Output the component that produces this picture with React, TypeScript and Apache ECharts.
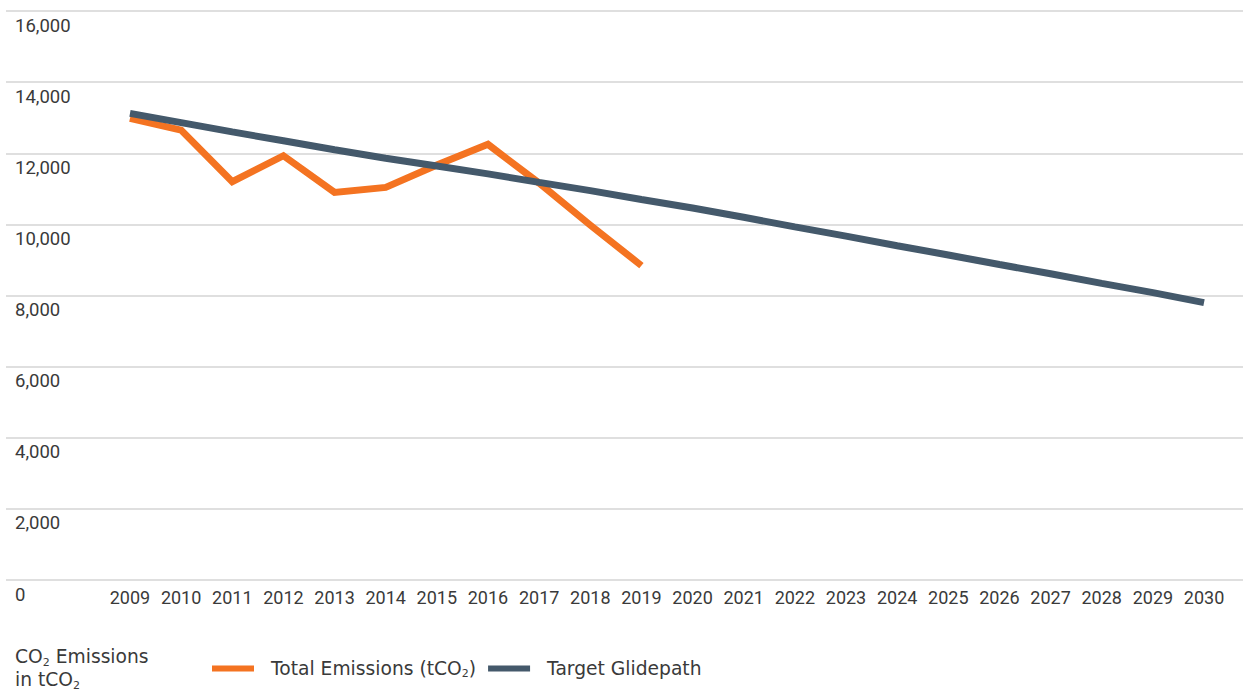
import React, { useEffect, useRef } from "react";
import * as echarts from "echarts";

const years = ["2009","2010","2011","2012","2013","2014","2015","2016","2017","2018","2019","2020","2021","2022","2023","2024","2025","2026","2027","2028","2029","2030"];
const totalEmissions = [12980, 12650, 11200, 11930, 10900, 11040, 11670, 12250, 11160, 9980, 8840];
const targetGlidepath = [13120, 12860, 12600, 12350, 12100, 11860, 11640, 11420, 11180, 10950, 10700, 10460, 10200, 9930, 9670, 9400, 9140, 8870, 8610, 8340, 8080, 7800];
const seriesNames = ["Total Emissions (tCO2)", "Target Glidepath"];
const yMin = 0;
const yMax = 16000;
const yStep = 2000;

const FONT = "Roboto";
const FONT2 = "DejaVu Sans";
const TEXT = "#3a3a3a";

export default function App() {
  const ref = useRef<HTMLDivElement>(null);
  useEffect(() => {
    document.body.style.margin = "0";
    const chart = echarts.init(ref.current!, null, { renderer: "svg" });
    const sub = { fontSize: 11, fontFamily: FONT2, color: TEXT, padding: [10, 0, 0, 0], verticalAlign: "bottom" as const };
    chart.setOption({
      animation: false,
      grid: [
        { left: 6, right: 0, top: 11, bottom: 113 },
        { left: 104.4, right: 13.4, top: 11, bottom: 113 },
      ],
      xAxis: [
        { type: "category", gridIndex: 0, data: years, show: false },
        {
          type: "category",
          gridIndex: 1,
          data: years,
          boundaryGap: true,
          axisLine: { show: false },
          axisTick: { show: false },
          axisLabel: { interval: 0, color: TEXT, fontFamily: FONT, fontSize: 18, margin: 8 },
        },
      ],
      yAxis: [
        {
          type: "value",
          gridIndex: 0,
          min: yMin,
          max: yMax,
          interval: yStep,
          axisLine: { show: false },
          axisTick: { show: false },
          splitLine: { lineStyle: { color: "#d4d4d4", width: 1.5 } },
          axisLabel: {
            inside: true,
            margin: 9,
            verticalAlign: "top",
            padding: [5, 0, 0, 0],
            color: TEXT,
            fontFamily: FONT,
            fontSize: 18.5,
            formatter: (v: number) => v.toLocaleString("en-US"),
          },
        },
        { type: "value", gridIndex: 1, min: yMin, max: yMax, interval: yStep, show: false, splitLine: { show: false } },
      ],
      legend: {
        left: 212,
        top: 659,
        padding: 0,
        icon: "rect",
        itemWidth: 42,
        itemHeight: 6,
        itemGap: 12,
        data: seriesNames,
        formatter: (name: string) => (name === seriesNames[0] ? "Total Emissions (tCO{sub|2})" : name),
        textStyle: {
          color: TEXT,
          fontFamily: FONT2,
          fontSize: 18.7,
          padding: [0, 0, 0, 12],
          rich: { sub },
        },
      },
      graphic: [
        {
          type: "text",
          left: 15,
          top: 645,
          style: {
            text: "CO{sub|2} Emissions\nin tCO{sub|2}",
            fill: TEXT,
            font: `18.7px ${FONT2}`,
            lineHeight: 23,
            rich: { sub: { ...sub, fill: TEXT } },
          },
        },
      ],
      series: [
        {
          name: seriesNames[0],
          type: "line",
          xAxisIndex: 1,
          yAxisIndex: 1,
          data: totalEmissions,
          showSymbol: false,
          symbol: "none",
          lineStyle: { color: "#F47321", width: 7, join: "miter" },
          itemStyle: { color: "#F47321" },
        },
        {
          name: seriesNames[1],
          type: "line",
          xAxisIndex: 1,
          yAxisIndex: 1,
          data: targetGlidepath,
          showSymbol: false,
          symbol: "none",
          lineStyle: { color: "#44596B", width: 7 },
          itemStyle: { color: "#44596B" },
        },
      ],
    });
    return () => chart.dispose();
  }, []);
  return <div ref={ref} style={{ width: 1243, height: 693 }} />;
}
